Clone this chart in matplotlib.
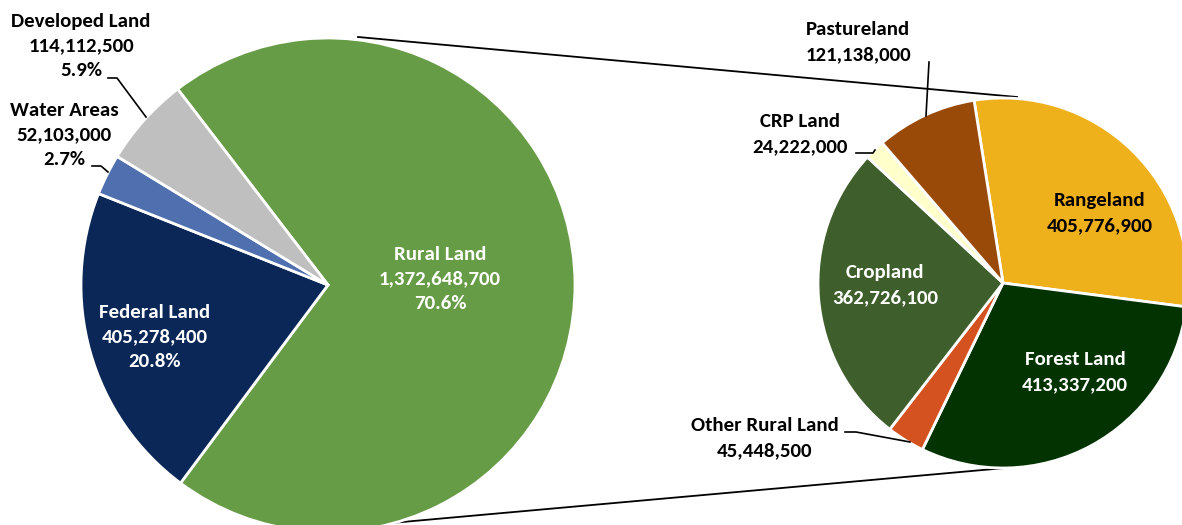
import matplotlib.pyplot as plt

# Left pie: all land
land_labels = ["Rural Land", "Federal Land", "Water Areas", "Developed Land"]
land_values = [1372648700, 405278400, 52103000, 114112500]
land_pcts = ["70.6%", "20.8%", "2.7%", "5.9%"]
land_colors = ["#679c47", "#0a2757", "#4f6fae", "#bfbfbf"]

# Right pie: breakdown of rural land
rural_labels = ["Rangeland", "Forest Land", "Other Rural Land", "Cropland", "CRP Land", "Pastureland"]
rural_values = [405776900, 413337200, 45448500, 362726100, 24222000, 121138000]
rural_colors = ["#eeb01b", "#023301", "#d4521f", "#3e5e2b", "#ffffcc", "#9a4a08"]

W, H = 1182, 525
fig = plt.figure(figsize=(W / 100, H / 100), dpi=100)
ax = fig.add_axes([0, 0, 1, 1])

FONT = ["Carlito", "DejaVu Sans"]
FS = 15

def Y(y):
    return H - y

c1, r1 = (328, Y(285)), 247
c2, r2 = (1003, Y(283)), 185

wp = dict(edgecolor="white", linewidth=2)
ax.pie(land_values, colors=land_colors, startangle=127.5, counterclock=False,
       center=c1, radius=r1, wedgeprops=wp, frame=True)
ax.pie(rural_values, colors=rural_colors, startangle=99, counterclock=False,
       center=c2, radius=r2, wedgeprops=wp, frame=True)

# connector lines between the pies
ax.plot([358, 1017], [Y(37), Y(97)], color="black", lw=1.3, zorder=0)
ax.plot([380, 1005], [Y(524), Y(468)], color="black", lw=1.3, zorder=0)

def fmt(v):
    return f"{v:,}"

def label(x, y, text, color="black"):
    ax.text(x, Y(y), text, ha="center", va="center", fontsize=FS, fontweight="bold",
            color=color, family=FONT, linespacing=1.55)

# left pie labels
label(440, 279, f"{land_labels[0]}\n{fmt(land_values[0])}\n{land_pcts[0]}", "white")
label(155, 337, f"{land_labels[1]}\n{fmt(land_values[1])}\n{land_pcts[1]}", "white")
label(64, 135, f"{land_labels[2]}\n{fmt(land_values[2])}\n{land_pcts[2]}")
label(81, 46, f"{land_labels[3]}\n{fmt(land_values[3])}\n{land_pcts[3]}")

# right pie labels
label(1100, 213, f"{rural_labels[0]}\n{fmt(rural_values[0])}")
label(1075, 372, f"{rural_labels[1]}\n{fmt(rural_values[1])}", "white")
label(885, 285, f"{rural_labels[3]}\n{fmt(rural_values[3])}", "white")
label(765, 438, f"{rural_labels[2]}\n{fmt(rural_values[2])}")
label(800, 134, f"{rural_labels[4]}\n{fmt(rural_values[4])}")
label(858, 42, f"{rural_labels[5]}\n{fmt(rural_values[5])}")

# leader lines
lk = dict(color="black", lw=1.2)
ax.plot([108, 117, 146], [Y(78), Y(78), Y(117)], **lk)
ax.plot([92, 101, 108], [Y(166), Y(166), Y(172)], **lk)
ax.plot([929, 926], [Y(62), Y(116)], **lk)
ax.plot([856, 873, 875], [Y(153), Y(153), Y(150)], **lk)
ax.plot([845, 856, 910], [Y(432), Y(432), Y(442)], **lk)

ax.set_xlim(0, W)
ax.set_ylim(0, H)
ax.set_aspect("equal")
ax.axis("off")

fig.savefig("out.png", dpi=100)
